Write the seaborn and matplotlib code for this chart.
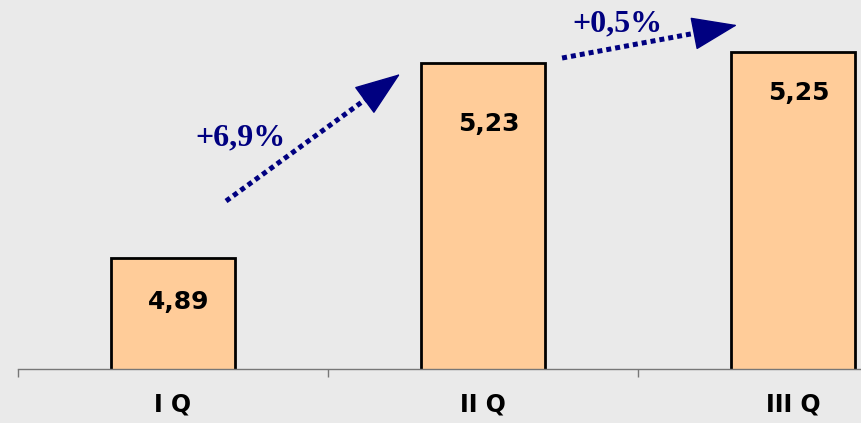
import matplotlib
matplotlib.use("Agg")
import matplotlib.pyplot as plt
import seaborn as sns

quarters = ["I Q", "II Q", "III Q"]
values = [4.89, 5.23, 5.25]
value_labels = ["4,89", "5,23", "5,25"]
growth_labels = ["+6,9%", "+0,5%"]

BG = "#EAEAEA"
BAR = "#FFCC99"
NAVY = "#000080"

sns.set_style("white")
fig = plt.figure(figsize=(8.61, 4.23), dpi=100, facecolor=BG)
ax = fig.add_axes([18 / 861, 54 / 423, 843 / 861, 369 / 423])
ax.set_facecolor(BG)

sns.barplot(x=quarters, y=values, color=BAR, edgecolor="black",
            linewidth=2, width=0.4, saturation=1, ax=ax)

ax.set_xlim(-0.5, 2.219)
ax.set_ylim(4.6965, 5.34)

for s in ["top", "right", "left"]:
    ax.spines[s].set_visible(False)
ax.spines["bottom"].set_color("#777777")
ax.spines["bottom"].set_linewidth(1)
ax.set_yticks([])
ax.set_xticks([-0.5, 0.5, 1.5], minor=True)
ax.tick_params(axis="x", which="minor", bottom=True, length=6, width=1,
               color="#777777", direction="out")
ax.tick_params(axis="x", which="major", length=0, pad=17, labelcolor="black")
for lbl in ax.get_xticklabels():
    lbl.set_fontweight("bold")
    lbl.set_fontsize(17)
    lbl.set_family("DejaVu Sans")
ax.set_xlabel("")
ax.set_ylabel("")

# value labels inside the bars
label_drop = [32, 44, 30]
for i, (v, t) in enumerate(zip(values, value_labels)):
    ax.annotate(t, xy=(i, v), xytext=(4, -label_drop[i]), textcoords="offset points",
                ha="center", va="center", fontsize=18, fontweight="bold",
                family="DejaVu Sans", color="black")

# growth arrows
arrows = [
    ((0.171, 4.9894), (0.6226, 5.1673), (0.7323, 5.2109)),
    ((1.2548, 5.2388), (1.6871, 5.2824), (1.8194, 5.2963)),
]
for start, base, tip in arrows:
    ax.plot([start[0], base[0] + (tip[0] - base[0]) * 0.2],
            [start[1], base[1] + (tip[1] - base[1]) * 0.2],
            color=NAVY, lw=3.6, linestyle=(0, (1, 0.8)), solid_capstyle="butt")
    ax.annotate("", xy=tip, xytext=base,
                arrowprops=dict(arrowstyle="-|>,head_length=1.5,head_width=0.55",
                                mutation_scale=20, color=NAVY, lw=1,
                                shrinkA=0, shrinkB=0))

ax.text(0.219, 5.099, growth_labels[0], ha="center", va="center", fontsize=23,
        fontweight="bold", family="Liberation Serif", color=NAVY)
ax.text(1.432, 5.298, growth_labels[1], ha="center", va="center", fontsize=23,
        fontweight="bold", family="Liberation Serif", color=NAVY)

fig.savefig("out.png", dpi=100, facecolor=BG)
plt.close()
